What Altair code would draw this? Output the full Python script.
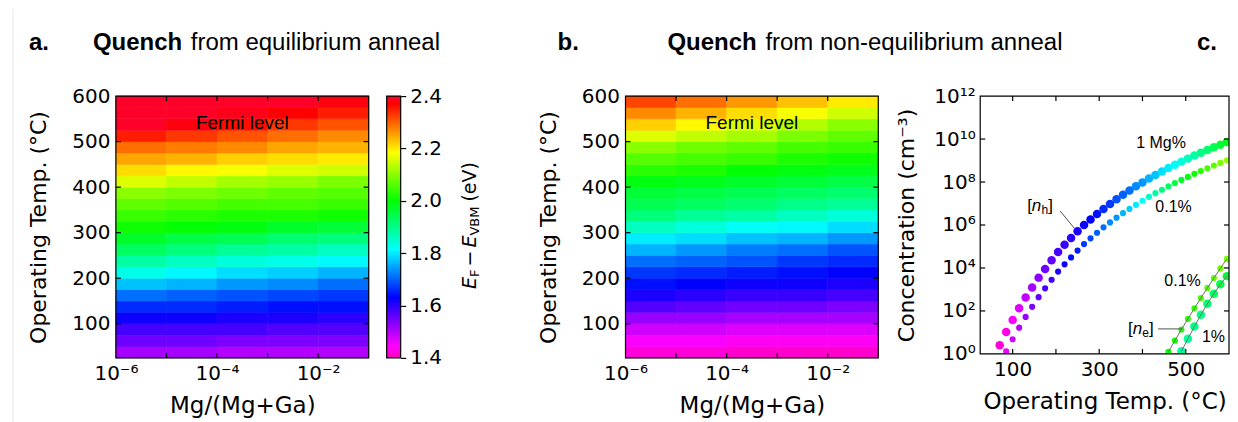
import altair as alt
import pandas as pd

# ---------------- values ----------------
# heat maps: rows = operating temperature (cell centres, deg C), columns = Mg/(Mg+Ga) decades
temp_rows = [37.5, 62.5, 87.5, 112.5, 137.5, 162.5, 187.5, 212.5, 237.5, 262.5, 287.5,
             312.5, 337.5, 362.5, 387.5, 412.5, 437.5, 462.5, 487.5, 512.5, 537.5, 562.5, 587.5]
mg_decades = [-6, -5, -4, -3, -2]

fermi_eq = [
    [1.51, 1.51, 1.50, 1.50, 1.50],
    [1.55, 1.55, 1.54, 1.54, 1.54],
    [1.58, 1.58, 1.58, 1.57, 1.57],
    [1.62, 1.62, 1.61, 1.61, 1.60],
    [1.66, 1.66, 1.65, 1.64, 1.64],
    [1.71, 1.70, 1.69, 1.68, 1.67],
    [1.77, 1.76, 1.74, 1.73, 1.71],
    [1.83, 1.81, 1.79, 1.78, 1.76],
    [1.88, 1.86, 1.84, 1.83, 1.81],
    [1.93, 1.91, 1.89, 1.88, 1.86],
    [1.97, 1.95, 1.94, 1.92, 1.91],
    [2.01, 2.00, 1.99, 1.97, 1.96],
    [2.04, 2.03, 2.02, 2.02, 2.01],
    [2.07, 2.06, 2.05, 2.05, 2.04],
    [2.10, 2.09, 2.08, 2.07, 2.06],
    [2.16, 2.14, 2.12, 2.11, 2.09],
    [2.21, 2.19, 2.18, 2.16, 2.15],
    [2.25, 2.24, 2.22, 2.21, 2.20],
    [2.29, 2.28, 2.27, 2.25, 2.24],
    [2.35, 2.33, 2.31, 2.29, 2.27],
    [2.40, 2.38, 2.36, 2.33, 2.31],
    [2.42, 2.41, 2.39, 2.37, 2.35],
    [2.44, 2.43, 2.41, 2.40, 2.38],
]

fermi_neq = [
    [1.42, 1.42, 1.41, 1.41, 1.41],
    [1.45, 1.45, 1.44, 1.44, 1.44],
    [1.48, 1.48, 1.47, 1.47, 1.47],
    [1.52, 1.52, 1.51, 1.51, 1.51],
    [1.57, 1.56, 1.55, 1.55, 1.54],
    [1.61, 1.60, 1.59, 1.59, 1.58],
    [1.64, 1.63, 1.62, 1.62, 1.61],
    [1.67, 1.66, 1.65, 1.64, 1.63],
    [1.71, 1.70, 1.69, 1.67, 1.66],
    [1.76, 1.74, 1.72, 1.71, 1.69],
    [1.80, 1.79, 1.77, 1.76, 1.74],
    [1.86, 1.84, 1.82, 1.81, 1.79],
    [1.91, 1.89, 1.88, 1.86, 1.84],
    [1.94, 1.93, 1.92, 1.90, 1.89],
    [1.96, 1.95, 1.94, 1.93, 1.92],
    [1.99, 1.98, 1.97, 1.96, 1.95],
    [2.03, 2.02, 2.00, 1.99, 1.98],
    [2.06, 2.05, 2.04, 2.02, 2.01],
    [2.10, 2.08, 2.07, 2.05, 2.04],
    [2.16, 2.14, 2.12, 2.09, 2.07],
    [2.22, 2.19, 2.16, 2.13, 2.10],
    [2.27, 2.24, 2.21, 2.18, 2.15],
    [2.32, 2.29, 2.26, 2.23, 2.20],
]

# panel c: carrier concentrations (log10 cm^-3) and the Fermi level used to colour each dot
nh_1_T = [70, 85, 100, 115, 130, 145, 160, 175, 190, 205, 220, 235, 250, 265, 280, 295, 310, 325,
          340, 355, 370, 385, 400, 415, 430, 445, 460, 475, 490, 505, 520, 535, 550, 565, 580, 595]
nh_1_log = [0.40, 1.02, 1.58, 2.12, 2.62, 3.09, 3.55, 3.95, 4.36, 4.74, 5.08, 5.40, 5.71, 6.00,
            6.26, 6.51, 6.75, 6.98, 7.20, 7.41, 7.61, 7.80, 7.98, 8.16, 8.33, 8.49, 8.65, 8.80,
            8.95, 9.09, 9.23, 9.36, 9.49, 9.62, 9.74, 9.86]
nh_1_EF = [1.42, 1.43, 1.45, 1.47, 1.49, 1.51, 1.53, 1.55, 1.56, 1.58, 1.59, 1.60, 1.61, 1.62,
           1.63, 1.64, 1.66, 1.67, 1.69, 1.70, 1.71, 1.73, 1.74, 1.76, 1.77, 1.79, 1.80, 1.82,
           1.84, 1.86, 1.88, 1.90, 1.92, 1.94, 1.96, 1.98]

nh_01_T = [85, 100, 115, 130, 145, 160, 175, 190, 205, 220, 235, 250, 265, 280, 295, 310, 325,
           340, 355, 370, 385, 400, 415, 430, 445, 460, 475, 490, 505, 520, 535, 550, 565, 580, 595]
nh_01_log = [0.12, 0.68, 1.22, 1.72, 2.19, 2.64, 3.05, 3.45, 3.83, 4.17, 4.49, 4.81, 5.11, 5.38,
             5.64, 5.89, 6.12, 6.34, 6.55, 6.75, 6.94, 7.13, 7.31, 7.48, 7.64, 7.80, 7.95, 8.10,
             8.24, 8.38, 8.51, 8.64, 8.77, 8.89, 9.01]
nh_01_EF = [1.46, 1.48, 1.50, 1.52, 1.54, 1.56, 1.58, 1.59, 1.61, 1.62, 1.64, 1.65, 1.67, 1.68,
            1.70, 1.71, 1.73, 1.74, 1.76, 1.78, 1.80, 1.82, 1.85, 1.88, 1.91, 1.93, 1.95, 1.97,
            1.99, 2.01, 2.03, 2.05, 2.07, 2.09, 2.11]

ne_01_T = [460, 475, 490, 505, 520, 535, 550, 565, 580, 595]
ne_01_log = [0.10, 0.62, 1.13, 1.63, 2.12, 2.60, 3.07, 3.53, 3.98, 4.42]
ne_01_EF = [2.00, 2.01, 2.02, 2.03, 2.04, 2.05, 2.06, 2.07, 2.08, 2.09]

ne_1_T = [490, 505, 520, 535, 550, 565, 580, 595]
ne_1_log = [0.12, 0.70, 1.27, 1.82, 2.33, 2.80, 3.24, 3.62]
ne_1_EF = [1.88, 1.89, 1.90, 1.91, 1.92, 1.93, 1.95, 1.96]

# ticks / tick labels
mg_label_vals = [1e-6, 1e-4, 1e-2]
mg_tick_vals = [1e-5, 1e-4, 1e-3, 1e-2]
temp_label_vals = [100, 200, 300, 400, 500, 600]
temp_tick_vals = [100, 200, 300, 400, 500]
cbar_vals = [1.4, 1.6, 1.8, 2.0, 2.2, 2.4]
c_x_label_vals = [100, 300, 500]
c_x_tick_vals = [100, 200, 300, 400, 500]
c_y_label_vals = [1, 1e2, 1e4, 1e6, 1e8, 1e10, 1e12]
c_y_tick_vals = [1e2, 1e4, 1e6, 1e8, 1e10]

# colour map (gist_rainbow reversed) on E_F - E_VBM
cmap_pos = [1.4, 1.446, 1.63, 1.814, 2.0, 2.185, 2.37, 2.4]
cmap_col = ["#ff00bf", "#ff00ff", "#0000ff", "#00ffff", "#00ff00", "#ffff00", "#ff0000", "#ff0029"]

# ---------------- styling ----------------
FONT = "DejaVu Sans"
HFONT = "Liberation Sans"
W, H = 253, 262
WC, HC = 249, 258
TL = 5

color_scale = alt.Scale(domain=cmap_pos, range=cmap_col, interpolate="rgb", clamp=True)
xs_mg = alt.Scale(type="log", domain=[1e-6, 1e-1], nice=False)
ys_T = alt.Scale(domain=[25, 600], nice=False, zero=False)
xs_Tc = alt.Scale(domain=[25, 600], nice=False, zero=False)
ys_n = alt.Scale(type="log", domain=[1, 1e12], nice=False)

one = pd.DataFrame({"k": [0]})

common_axis = dict(ticks=False, domain=False, grid=False, labelFlush=False, labelOverlap=False,
                   labelFont=FONT, labelFontSize=20, labelColor="black",
                   titleFont=FONT, titleFontWeight="normal", titleColor="black")

mg_axis = alt.Axis(values=mg_label_vals,
                   labelExpr="datum.value < 1e-5 ? '10⁻⁶' : (datum.value < 1e-3 ? '10⁻⁴' : '10⁻²')",
                   labelPadding=6, title="Mg/(Mg+Ga)", titleFontSize=23, titlePadding=11,
                   **common_axis)
temp_axis = alt.Axis(values=temp_label_vals, format="d", labelPadding=6,
                     title="Operating Temp. (°C)", titleFontSize=22, titlePadding=21, **common_axis)
c_x_axis = alt.Axis(values=c_x_label_vals, format="d", labelPadding=6,
                    title="Operating Temp. (°C)", titleFontSize=23, titlePadding=11, **common_axis)
c_y_axis = alt.Axis(values=c_y_label_vals,
                    labelExpr="datum.value < 10 ? '10⁰' : datum.value < 1e3 ? '10²' : datum.value < 1e5 ? '10⁴' : datum.value < 1e7 ? '10⁶' : datum.value < 1e9 ? '10⁸' : datum.value < 1e11 ? '10¹⁰' : '10¹²'",
                    labelPadding=5, title="Concentration (cm⁻³)", titleFontSize=22, titlePadding=15,
                    **common_axis)


def txt(text, x, y, size, font=HFONT, weight="normal", style="normal", align="left",
        baseline="alphabetic", angle=0, color="black"):
    kw = dict(text=text, fontSize=size, font=font, fontWeight=weight, fontStyle=style,
              align=align, baseline=baseline, color=color)
    if angle:
        kw["angle"] = angle
    return alt.Chart(one).mark_text(**kw).encode(x=alt.value(x), y=alt.value(y))


def rule_px(x1, y1, x2, y2, color, width):
    return alt.Chart(one).mark_rule(color=color, strokeWidth=width).encode(
        x=alt.value(x1), y=alt.value(y1), x2=alt.value(x2), y2=alt.value(y2))


def border(w, h):
    return alt.Chart(one).mark_rect(fill="transparent", stroke="black", strokeWidth=1.2).encode(
        x=alt.value(0), x2=alt.value(w), y=alt.value(0), y2=alt.value(h))


def xticks(vals, scale, axis, h):
    d = pd.DataFrame({"v": vals})
    b = alt.Chart(d).mark_rule(color="black", strokeWidth=1.2)
    return [b.encode(x=alt.X("v:Q", scale=scale, axis=axis), y=alt.value(0), y2=alt.value(TL)),
            b.encode(x=alt.X("v:Q", scale=scale, axis=axis), y=alt.value(h - TL), y2=alt.value(h))]


def yticks(vals, scale, axis, w):
    d = pd.DataFrame({"v": vals})
    b = alt.Chart(d).mark_rule(color="black", strokeWidth=1.2)
    return [b.encode(y=alt.Y("v:Q", scale=scale, axis=axis), x=alt.value(0), x2=alt.value(TL)),
            b.encode(y=alt.Y("v:Q", scale=scale, axis=axis), x=alt.value(w - TL), x2=alt.value(w))]


def heat_df(grid):
    rows = []
    for i, t in enumerate(temp_rows):
        for j, d in enumerate(mg_decades):
            rows.append({"mg_lo": 10.0 ** d, "mg_hi": 10.0 ** (d + 1),
                         "t_lo": t - 12.5, "t_hi": t + 12.5, "EF": grid[i][j]})
    return pd.DataFrame(rows)


def heat_panel(grid, titles):
    heat = alt.Chart(heat_df(grid)).mark_rect(strokeWidth=0.6).encode(
        x=alt.X("mg_lo:Q", scale=xs_mg, axis=mg_axis),
        x2="mg_hi:Q",
        y=alt.Y("t_lo:Q", scale=ys_T, axis=temp_axis),
        y2="t_hi:Q",
        color=alt.Color("EF:Q", scale=color_scale, legend=None),
        stroke=alt.Stroke("EF:Q", scale=color_scale, legend=None),
    )
    layers = [heat] + xticks(mg_tick_vals, xs_mg, mg_axis, H) + yticks(temp_tick_vals, ys_T, temp_axis, W)
    layers += [border(W, H), txt("Fermi level", W / 2, 27, 19, align="center", baseline="middle")]
    layers += titles
    return alt.layer(*layers).properties(width=W, height=H)


def title_parts(letter, lx, qx, rest, rx):
    return [txt(letter, lx, -46, 24, weight="bold"),
            txt("Quench", qx, -46, 24, weight="bold"),
            txt(rest, rx, -46, 24)]


panel_a = heat_panel(fermi_eq,
                     [rule_px(-103, -87, -103, 340, "#e6e6e6", 1)] +
                     title_parts("a.", -87, -23, "from equilibrium anneal", 75))
panel_b = heat_panel(fermi_neq,
                     title_parts("b.", -68, 42, "from non-equilibrium anneal", 140))

# colour bar
cb_df = pd.DataFrame({"lo": [1.4], "hi": [2.4]})
grad = alt.LinearGradient(
    gradient="linear", x1=0, x2=0, y1=1, y2=0,
    stops=[alt.GradientStop(color=c, offset=(p - 1.4) / 1.0) for p, c in zip(cmap_pos, cmap_col)])
cbar_rect = alt.Chart(cb_df).mark_rect(color=grad).encode(
    x=alt.value(0), x2=alt.value(14),
    y=alt.Y("lo:Q", scale=alt.Scale(domain=[1.4, 2.4], nice=False, zero=False),
            axis=alt.Axis(orient="right", values=cbar_vals, format=".1f", tickSize=5,
                          tickColor="black", tickWidth=1.2, domain=False, grid=False,
                          labelFont=FONT, labelFontSize=20, labelColor="black", labelPadding=4,
                          labelFlush=False, labelOverlap=False, title=None)),
    y2="hi:Q")
cx, sx = 83, 88
cbar = alt.layer(
    cbar_rect, border(14, H),
    txt("E", cx, 193, 19, font=FONT, style="italic", baseline="middle", angle=270),
    txt("F", sx, 181, 13, font=FONT, baseline="middle", angle=270),
    txt("−", cx, 170.5, 19, font=FONT, baseline="middle", angle=270),
    txt("E", cx, 151.6, 19, font=FONT, style="italic", baseline="middle", angle=270),
    txt("VBM", sx, 139.6, 13, font=FONT, baseline="middle", angle=270),
    txt("(eV)", cx, 105.6, 19, font=FONT, baseline="middle", angle=270),
).properties(width=14, height=H)

# panel c
def conc_df(T, lg, ef):
    return pd.DataFrame({"T": T, "n": [10.0 ** v for v in lg], "EF": ef})

d_nh1 = conc_df(nh_1_T, nh_1_log, nh_1_EF)
d_nh01 = conc_df(nh_01_T, nh_01_log, nh_01_EF)
d_ne01 = conc_df(ne_01_T, ne_01_log, ne_01_EF)
d_ne1 = conc_df(ne_1_T, ne_1_log, ne_1_EF)


def dots(df, size):
    return alt.Chart(df).mark_circle(size=size, opacity=1, clip=True).encode(
        x=alt.X("T:Q", scale=xs_Tc, axis=c_x_axis),
        y=alt.Y("n:Q", scale=ys_n, axis=c_y_axis),
        color=alt.Color("EF:Q", scale=color_scale, legend=None))


def guide(df):
    return alt.Chart(df).mark_line(color="#6e6e6e", strokeWidth=1, clip=True).encode(
        x=alt.X("T:Q", scale=xs_Tc, axis=c_x_axis), y=alt.Y("n:Q", scale=ys_n, axis=c_y_axis))


panel_c = alt.layer(
    dots(d_nh01, 38), dots(d_nh1, 72), dots(d_ne01, 38), dots(d_ne1, 72),
    guide(d_ne01), guide(d_ne1),
    *xticks(c_x_tick_vals, xs_Tc, c_x_axis, HC), *yticks(c_y_tick_vals, ys_n, c_y_axis, WC),
    border(WC, HC),
    txt("1 Mg%", 181, 47, 16, align="center", baseline="middle"),
    txt("0.1%", 193.5, 111, 16, align="center", baseline="middle"),
    txt("0.1%", 202.5, 185, 16, align="center", baseline="middle"),
    txt("1%", 233.5, 241, 16, align="center", baseline="middle"),
    txt("[", 47, 110, 17, baseline="middle"),
    txt("n", 51.7, 110, 17, style="italic", baseline="middle"),
    txt("h", 61.3, 114, 12, baseline="middle"),
    txt("]", 68, 110, 17, baseline="middle"),
    rule_px(80, 115, 94, 132, "#505050", 1),
    txt("[", 148, 233, 17, baseline="middle"),
    txt("n", 152.7, 233, 17, style="italic", baseline="middle"),
    txt("e", 162.3, 237, 12, baseline="middle"),
    txt("]", 169, 233, 17, baseline="middle"),
    rule_px(178, 233, 202, 233, "#505050", 1),
    txt("c.", 217, -46, 24, weight="bold"),
).properties(width=WC, height=HC)


def spacer(w):
    return alt.Chart(one).mark_point(opacity=0).encode(x=alt.value(0), y=alt.value(0)).properties(
        width=w, height=H)


chart = alt.hconcat(panel_a, spacer(18), cbar, spacer(225), panel_b, spacer(102), panel_c,
                    spacing=0, bounds="flush").properties(
    padding={"left": 4, "top": 0, "right": 0, "bottom": 0}
).configure_view(stroke=None)

chart.save("out.html", embed_options={"renderer": "svg", "actions": False})
